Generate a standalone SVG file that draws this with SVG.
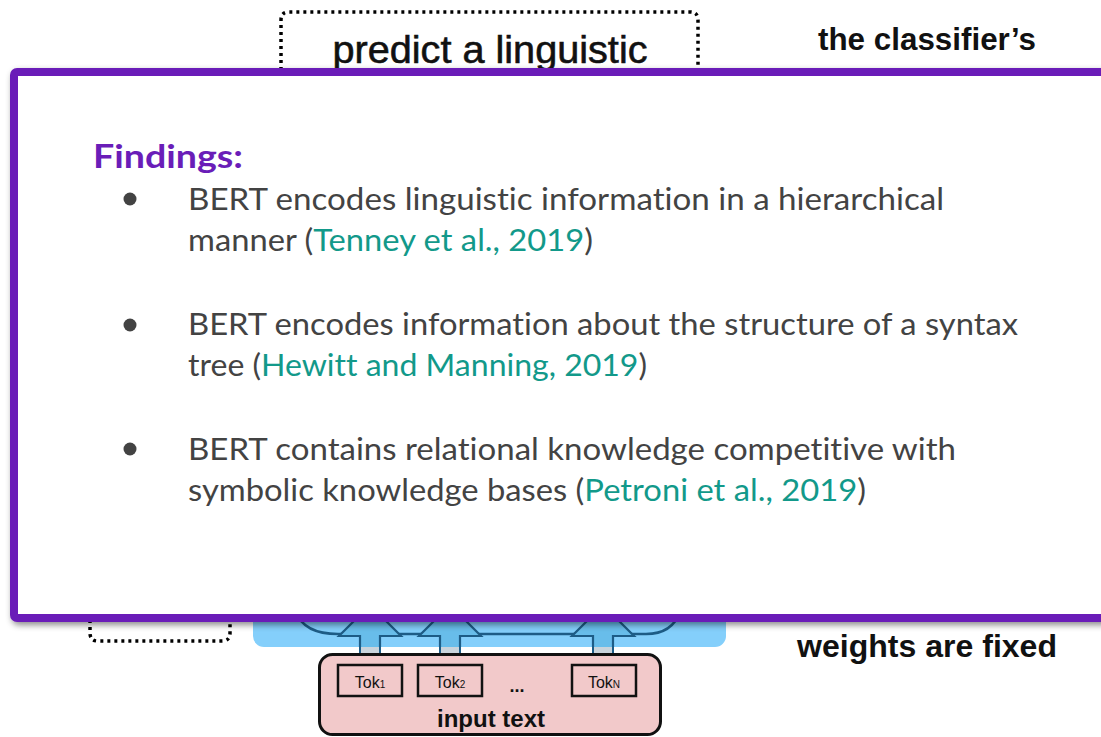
<svg xmlns="http://www.w3.org/2000/svg" width="1101" height="737" viewBox="0 0 1101 737">
<defs>
<style>
.dot{fill:none;stroke:#000;stroke-width:3.5;stroke-dasharray:3 4;stroke-linecap:butt}
.hb{font-family:"Liberation Sans",Arial,sans-serif;fill:#111}
.body{font-family:Lato,"Noto Sans",sans-serif;font-size:30px;fill:#434343;font-variant-ligatures:none}
.link{fill:#12998a}
.tok{fill:none;stroke:#111;stroke-width:2.5}
.tt{font-family:"Liberation Sans",Arial,sans-serif;font-size:16px;fill:#111}
.arw{fill:#68bdea;stroke:#1d5c86;stroke-width:2.2;stroke-linejoin:miter}
.arc{fill:none;stroke:#1d5c86;stroke-width:2.5}
</style>
<filter id="sh" x="-5%" y="-5%" width="110%" height="115%">
<feDropShadow dx="2" dy="3" stdDeviation="3" flood-color="#000" flood-opacity="0.45"/>
</filter>
</defs>

<g id="probe-box">
<path class="dot" d="M281,70 V20 Q281,12 289,12 H690 Q698,12 698,20 V70"/>
<text class="hb" x="490" y="63" font-size="39" text-anchor="middle" stroke="#111" stroke-width="0.6" textLength="315" lengthAdjust="spacingAndGlyphs">predict a linguistic</text>
</g>

<g id="classifier-label">
<text class="hb" x="818" y="50" font-size="31" font-weight="bold" textLength="218" lengthAdjust="spacingAndGlyphs">the classifier’s</text>
</g>

<g id="left-dotted">
<path class="dot" d="M90,620 V633 Q90,641 98,641 H222 Q230,641 230,633 V620"/>
</g>

<g id="bert-model">
<rect x="253" y="590" width="473" height="57" rx="11" fill="#84cffb"/>
<path class="arc" d="M296,612 Q304,634 338,634 H646 Q672,634 680,612"/>
<rect x="360" y="645" width="20" height="9" fill="#c9d4dc" stroke="#1d5c86" stroke-width="2"/>
<rect x="440" y="645" width="20" height="9" fill="#c9d4dc" stroke="#1d5c86" stroke-width="2"/>
<rect x="593" y="645" width="20" height="9" fill="#c9d4dc" stroke="#1d5c86" stroke-width="2"/>
<path class="arw" d="M360,647 V636 H339 L370,605 L401,636 H380 V647"/>
<path class="arw" d="M440,647 V636 H419 L450,605 L481,636 H460 V647"/>
<path class="arw" d="M593,647 V636 H572 L603,605 L634,636 H613 V647"/>
</g>

<g id="input-text">
<rect x="319.5" y="654.5" width="341" height="80" rx="13" fill="#f2c9ca" stroke="#111" stroke-width="3"/>
<rect class="tok" x="338" y="665" width="64" height="31"/>
<rect class="tok" x="418" y="665" width="64" height="31"/>
<rect class="tok" x="572" y="665" width="64" height="31"/>
<text class="tt" x="370" y="688" text-anchor="middle">Tok<tspan font-size="10">1</tspan></text>
<text class="tt" x="450" y="688" text-anchor="middle">Tok<tspan font-size="10">2</tspan></text>
<text class="tt" x="604" y="688" text-anchor="middle">Tok<tspan font-size="10">N</tspan></text>
<text class="hb" x="517" y="692" font-size="18" font-weight="bold" text-anchor="middle">...</text>
<text class="hb" x="491" y="727" font-size="24" font-weight="bold" text-anchor="middle">input text</text>
</g>

<g id="fixed-label">
<text class="hb" x="797" y="657" font-size="32" font-weight="bold" textLength="260" lengthAdjust="spacingAndGlyphs">weights are fixed</text>
</g>

<g id="findings-panel">
<rect x="14" y="72" width="1110" height="546" rx="3" fill="#fff" stroke="#6a1db8" stroke-width="8" filter="url(#sh)"/>
<text x="93" y="168" font-family="Lato,'Noto Sans',sans-serif" font-size="32" font-weight="bold" fill="#6a1db8" textLength="150" lengthAdjust="spacingAndGlyphs">Findings:</text>
<circle cx="130" cy="199" r="6.5" fill="#434343"/>
<circle cx="130" cy="325" r="6.5" fill="#434343"/>
<circle cx="130" cy="449" r="6.5" fill="#434343"/>
<text class="body" x="188" y="210" textLength="756" lengthAdjust="spacingAndGlyphs">BERT encodes linguistic information in a hierarchical</text>
<text class="body" x="188" y="251" textLength="405" lengthAdjust="spacingAndGlyphs">manner (<tspan class="link">Tenney et al., 2019</tspan>)</text>
<text class="body" x="188" y="335" textLength="830" lengthAdjust="spacingAndGlyphs">BERT encodes information about the structure of a syntax</text>
<text class="body" x="188" y="376" textLength="459" lengthAdjust="spacingAndGlyphs">tree (<tspan class="link">Hewitt and Manning, 2019</tspan>)</text>
<text class="body" x="188" y="460" textLength="768" lengthAdjust="spacingAndGlyphs">BERT contains relational knowledge competitive with</text>
<text class="body" x="188" y="501" textLength="678" lengthAdjust="spacingAndGlyphs">symbolic knowledge bases (<tspan class="link">Petroni et al., 2019</tspan>)</text>
</g>
</svg>
